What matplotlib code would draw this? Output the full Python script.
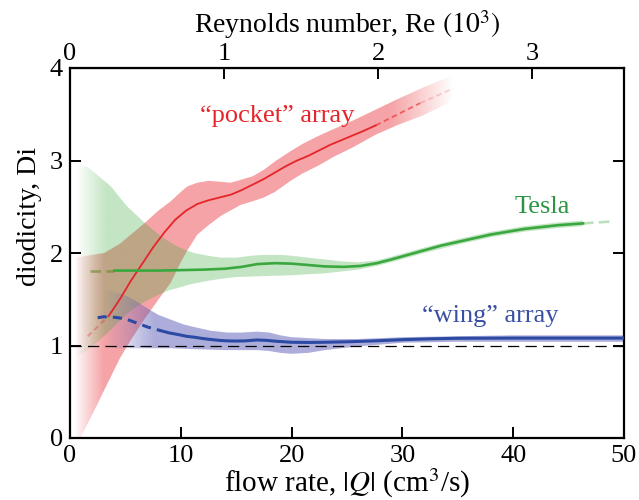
import numpy as np
import matplotlib
matplotlib.use('Agg')
import matplotlib.pyplot as plt
from matplotlib.colors import to_rgb

plt.rcParams['font.family'] = ['Liberation Serif', 'DejaVu Serif']
plt.rcParams['mathtext.fontset'] = 'stix'
plt.rcParams['font.size'] = 19

# ---- data (flow rate Q in cm^3/s, diodicity Di) ----
# "pocket" array
pocket_q = [3.5, 4.5, 5.5, 6.5, 7.5, 8.5, 9.5, 10.5, 11.5, 12.5, 13.5, 14.5, 15.5, 16.5,
            17.5, 18.5, 19.5, 20.5, 21.5, 22.5, 23.5, 24.5, 25.5, 26.5, 27.6]
pocket_di = [1.32, 1.5, 1.7, 1.88, 2.06, 2.22, 2.36, 2.46, 2.53, 2.57, 2.6, 2.63, 2.68, 2.74,
             2.8, 2.87, 2.94, 3.0, 3.05, 3.11, 3.17, 3.22, 3.27, 3.32, 3.38]
pocket_dash_left_q = [1.6, 3.5]
pocket_dash_left_di = [1.1, 1.32]
pocket_dash_right_q = [27.6, 31.6, 34.6]
pocket_dash_right_di = [3.38, 3.62, 3.78]
pocket_band_q = [0.5, 2.0, 3.1, 4.5, 5.5, 6.7, 8.0, 9.1, 10.0, 10.6, 11.5, 12.5, 13.6, 14.5,
                 15.4, 16.5, 17.5, 18.5, 19.9, 21.0, 22.5, 23.8, 25.5, 27.6, 29.5, 31.9, 34.5]
pocket_band_hi = [1.95, 1.98, 2.0, 2.1, 2.2, 2.32, 2.46, 2.56, 2.66, 2.72, 2.76, 2.78, 2.77, 2.76,
                  2.79, 2.83, 2.9, 2.99, 3.1, 3.18, 3.27, 3.34, 3.43, 3.55, 3.66, 3.79, 3.92]
pocket_band_lo = [-0.1, 0.25, 0.52, 0.86, 1.06, 1.28, 1.5, 1.68, 1.9, 2.03, 2.2, 2.3, 2.4, 2.46,
                  2.52, 2.56, 2.6, 2.66, 2.78, 2.86, 2.95, 3.04, 3.14, 3.28, 3.38, 3.49, 3.64]

# Tesla
tesla_q = [4.0, 6.0, 8.0, 10.0, 12.0, 14.0, 15.5, 16.9, 18.5, 20.0, 21.5, 23.0, 24.7, 26.2,
           27.7, 29.0, 30.5, 32.0, 33.5, 35.0, 36.5, 38.0, 39.5, 41.0, 42.5, 44.0, 46.3]
tesla_di = [1.81, 1.81, 1.81, 1.815, 1.82, 1.83, 1.85, 1.88, 1.89, 1.885, 1.87, 1.855, 1.85, 1.86,
            1.89, 1.93, 1.98, 2.03, 2.08, 2.12, 2.16, 2.2, 2.23, 2.26, 2.28, 2.3, 2.32]
tesla_dash_left_q = [1.8, 4.0]
tesla_dash_left_di = [1.81, 1.81]
tesla_dash_right_q = [46.3, 48.8]
tesla_dash_right_di = [2.32, 2.34]
tesla_band_q = [0.3, 1.6, 2.6, 3.7, 4.5, 5.2, 6.0, 6.7, 7.5, 8.2, 9.0, 9.7, 10.5, 11.2, 12.5,
                13.6, 15.0, 16.3, 17.5, 19.0, 20.0, 21.5, 23.0, 24.5, 26.0, 27.7, 29.0, 30.5,
                32.0, 35.0, 38.0, 41.0, 44.0, 46.3]
tesla_band_hi = [2.97, 2.93, 2.83, 2.72, 2.6, 2.5, 2.41, 2.33, 2.25, 2.18, 2.12, 2.07, 2.03, 2.0, 1.97,
                 1.95, 1.95, 1.97, 1.98, 1.98, 1.97, 1.95, 1.93, 1.91, 1.9, 1.92, 1.96, 2.01,
                 2.06, 2.15, 2.23, 2.29, 2.33, 2.35]
tesla_band_lo = [0.85, 0.95, 1.05, 1.17, 1.27, 1.35, 1.42, 1.47, 1.52, 1.56, 1.6, 1.62, 1.65, 1.67, 1.7,
                 1.72, 1.74, 1.745, 1.75, 1.755, 1.76, 1.77, 1.78, 1.8, 1.82, 1.86, 1.9, 1.95,
                 2.0, 2.09, 2.17, 2.23, 2.27, 2.29]

# "wing" array
wing_q = [8.2, 9.0, 9.7, 10.5, 11.2, 12.0, 12.7, 13.5, 14.2, 15.0, 15.8, 16.9, 17.8, 18.7,
          20.0, 21.5, 23.0, 25.0, 27.5, 30.0, 32.5, 35.0, 40.0, 45.0, 50.0]
wing_di = [1.16, 1.135, 1.12, 1.1, 1.09, 1.075, 1.065, 1.055, 1.05, 1.048, 1.05, 1.06, 1.055, 1.045,
           1.035, 1.033, 1.035, 1.04, 1.05, 1.063, 1.072, 1.078, 1.08, 1.08, 1.08]
wing_dash_q = [2.5, 3.0, 3.6, 4.4, 5.2, 6.1, 7.0, 8.2]
wing_dash_di = [1.30, 1.31, 1.31, 1.3, 1.28, 1.24, 1.2, 1.16]
wing_band_q = [3.0, 4.0, 5.2, 6.1, 7.0, 8.0, 9.1, 10.2, 11.2, 12.7, 14.2, 15.5, 16.9, 18.0,
               19.0, 20.0, 21.5, 23.0, 24.5, 26.0, 28.0, 30.0, 35.0, 40.0, 50.0]
wing_band_hi = [1.62, 1.58, 1.53, 1.47, 1.4, 1.33, 1.28, 1.23, 1.2, 1.16, 1.14, 1.14, 1.15, 1.14,
                1.11, 1.09, 1.08, 1.07, 1.07, 1.07, 1.08, 1.09, 1.1, 1.11, 1.11]
wing_band_lo = [1.0, 0.97, 0.97, 0.97, 0.97, 0.97, 0.97, 0.965, 0.96, 0.955, 0.95, 0.95, 0.95, 0.94,
                0.92, 0.91, 0.92, 0.95, 0.97, 0.99, 1.01, 1.03, 1.04, 1.04, 1.04]

re_per_q = 1 / 13.9   # Re (10^3) per cm^3/s
re_ticks = [0, 1, 2, 3]

RED = '#e6252a'
GREEN = '#3aa83f'
BLUE = '#2c4aa3'


def fade_band(ax, q, lo, hi, color, alpha, fade_in=None, fade_out=None):
    # band with alpha ramp in x, done as a clipped gradient image
    poly = ax.fill_between(q, lo, hi, facecolor='none', edgecolor='none')
    xs = np.linspace(0, 50, 600)
    a = np.full_like(xs, alpha)
    if fade_in is not None:
        a *= np.clip((xs - fade_in[0]) / (fade_in[1] - fade_in[0]), 0, 1)
    if fade_out is not None:
        a *= np.clip((fade_out[1] - xs) / (fade_out[1] - fade_out[0]), 0, 1)
    img = np.zeros((1, len(xs), 4))
    img[..., :3] = to_rgb(color)
    img[0, :, 3] = a
    im = ax.imshow(img, extent=[0, 50, -0.5, 4.5], aspect='auto',
                   interpolation='bilinear', zorder=1)
    im.set_clip_path(poly.get_paths()[0], transform=ax.transData)


fig = plt.figure(figsize=(6.39, 5.0), dpi=100)
ax = fig.add_axes([0.1095, 0.124, 0.867, 0.74])

fade_band(ax, pocket_band_q, pocket_band_lo, pocket_band_hi, '#e8252c', 0.42,
          fade_in=(0.3, 3.0), fade_out=(29.0, 34.5))
fade_band(ax, tesla_band_q, tesla_band_lo, tesla_band_hi, '#3caa3c', 0.3,
          fade_in=(0.5, 3.2))
fade_band(ax, wing_band_q, wing_band_lo, wing_band_hi, '#5555b4', 0.48,
          fade_in=(3.0, 7.5))

ax.axhline(1, color='k', lw=0.9, dashes=(9, 5), zorder=2)

# pocket
ax.plot(pocket_q, pocket_di, color=RED, lw=1.3, zorder=4)
ax.plot(pocket_dash_left_q, pocket_dash_left_di, color=RED, lw=1.3, alpha=0.35,
        dashes=(3, 2), zorder=4)
ax.plot(pocket_dash_right_q[:2], pocket_dash_right_di[:2], color=RED, lw=1.3,
        alpha=0.6, dashes=(3, 2), zorder=4)
ax.plot(pocket_dash_right_q[1:], pocket_dash_right_di[1:], color=RED, lw=1.3,
        alpha=0.2, dashes=(3, 2), zorder=4)

# tesla
ax.plot(tesla_q, tesla_di, color=GREEN, lw=1.9, zorder=4)
ax.plot(tesla_dash_left_q, tesla_dash_left_di, color='#6b8a2a', lw=1.9, alpha=0.6,
        dashes=(4, 2), zorder=4)
ax.plot(tesla_dash_right_q, tesla_dash_right_di, color=GREEN, lw=1.9, alpha=0.35,
        dashes=(4, 2), zorder=4)

# wing
ax.plot(wing_q, wing_di, color=BLUE, lw=2.2, zorder=4)
ax.plot(wing_dash_q, wing_dash_di, color=BLUE, lw=2.2, dashes=(3, 2), zorder=4)

ax.text(18.7, 3.42, '\u201cpocket\u201d array', color=RED, fontsize=19, ha='center')
ax.text(42.6, 2.43, 'Tesla', color='#2e9444', fontsize=19, ha='center')
ax.text(37.9, 1.257, '\u201cwing\u201d array', color='#3a4ea3', fontsize=19, ha='center')

ax.set_xlim(0, 50)
ax.set_ylim(0, 4)
ax.set_xticks([0, 10, 20, 30, 40, 50])
ax.set_yticks([0, 1, 2, 3, 4])
ax.tick_params(direction='in', length=8, width=1.4, top=False, right=True,
               labelsize=19, pad=5)
for s in ax.spines.values():
    s.set_linewidth(1.6)
ax.set_xlabel('flow rate, $|Q|$ (cm$^3$/s)', fontsize=21, labelpad=0)
ax.set_ylabel('diodicity, Di', fontsize=20)
ax.yaxis.set_label_coords(-0.05, 0.6)

sec = ax.secondary_xaxis('top', functions=(lambda q: q * re_per_q, lambda r: r / re_per_q))
sec.set_xticks(re_ticks)
sec.tick_params(direction='in', length=8, width=1.4, labelsize=19, pad=2)
sec.set_xlabel('Reynolds number, Re $(10^3)$', fontsize=20, labelpad=7)

fig.savefig('out.png', dpi=100)
